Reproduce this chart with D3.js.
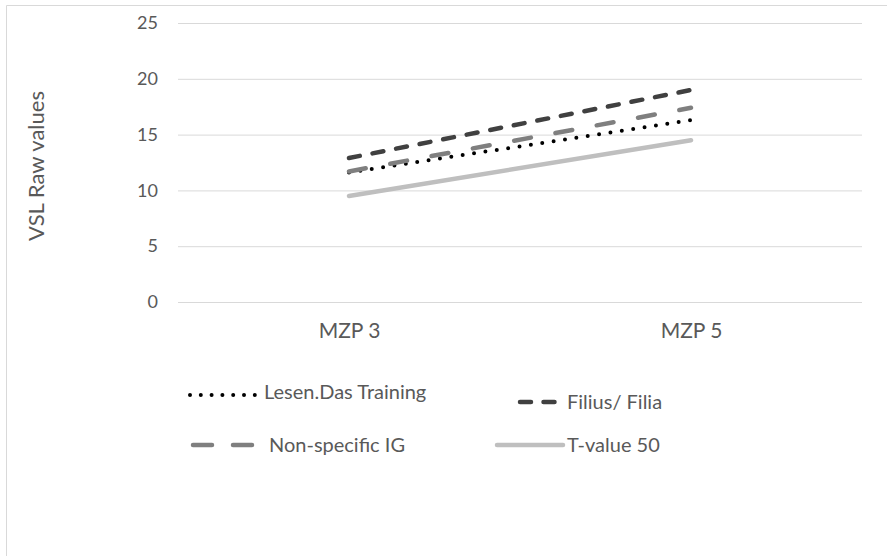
<!DOCTYPE html>
<html>
<head>
<meta charset="utf-8">
<script src="https://cdn.jsdelivr.net/npm/d3@7"></script>
<style>
  body { margin: 0; background: #fff; }
  svg { display: block; font-family: Lato, sans-serif; }
</style>
</head>
<body>
<svg id="chart" width="887" height="556"></svg>
<script>
// chart data
const categories = ['MZP 3', 'MZP 5'];
const seriesNames = ['Lesen.Das Training', 'Filius/ Filia', 'Non-specific IG', 'T-value 50'];
const lesenValues = [11.6, 16.3];
const filiusValues = [12.9, 19.0];
const nonSpecificValues = [11.7, 17.4];
const tValues = [9.5, 14.5];
const yTicks = [0, 5, 10, 15, 20, 25];

const svg = d3.select('#chart');
const margin = { top: 23, right: 25, bottom: 254, left: 178 };
const width = 887 - margin.left - margin.right;
const height = 556 - margin.top - margin.bottom;

// outer frame (only top and left visible)
svg.append('path')
  .attr('d', 'M6.5,556V5.5H887')
  .attr('fill', 'none')
  .attr('stroke', '#d9d9d9')
  .attr('stroke-width', 1);

const g = svg.append('g').attr('transform', `translate(${margin.left},${margin.top})`);

const x = d3.scalePoint().domain(categories).range([0, width]).padding(0.5);
const y = d3.scaleLinear().domain([0, 25]).range([height, 0]);

// gridlines + y labels
g.append('g')
  .call(d3.axisLeft(y).tickValues(yTicks).tickSize(-width).tickPadding(20))
  .call(a => a.select('.domain').remove())
  .call(a => a.selectAll('line').attr('stroke', '#d9d9d9').attr('stroke-width', 1))
  .call(a => a.selectAll('text').attr('fill', '#595959').attr('font-size', 18).attr('font-family', 'Lato, sans-serif'));

// x labels
g.append('g')
  .attr('transform', `translate(0,${height})`)
  .call(d3.axisBottom(x).tickSize(0).tickPadding(21))
  .call(a => a.select('.domain').remove())
  .call(a => a.selectAll('text').attr('fill', '#595959').attr('font-size', 21).attr('font-family', 'Lato, sans-serif'));

// y axis title
svg.append('text')
  .attr('transform', `translate(44,${166}) rotate(-90)`)
  .attr('text-anchor', 'middle')
  .attr('fill', '#595959')
  .attr('font-size', 22)
  .text('VSL Raw values');

const styles = [
  { values: lesenValues, color: '#000000', width: 4, dash: '0,11.5' },
  { values: filiusValues, color: '#404040', width: 4.5, dash: '11,13' },
  { values: nonSpecificValues, color: '#7f7f7f', width: 4.5, dash: '17,25' },
  { values: tValues, color: '#bfbfbf', width: 4.5, dash: null }
];

const line = d3.line()
  .x((d, i) => x(categories[i]))
  .y(d => y(d));

// draw order: T-value, Lesen, Non-specific, Filius
[3, 0, 2, 1].forEach(i => {
  const s = styles[i];
  g.append('path')
    .datum(s.values)
    .attr('fill', 'none')
    .attr('stroke', s.color)
    .attr('stroke-width', s.width)
    .attr('stroke-linecap', 'round')
    .attr('stroke-dasharray', s.dash)
    .attr('d', line);
});

// legend
const legendItems = [
  { x1: 190, x2: 256, y: 395, tx: 264, ty: 392, size: 20 },
  { x1: 520, x2: 556, y: 402, tx: 567, ty: 402, size: 20 },
  { x1: 193, x2: 252, y: 445, tx: 269, ty: 445, size: 20 },
  { x1: 497, x2: 563, y: 445, tx: 567, ty: 445, size: 20 }
];
const legendDash = ['0,10.8', '11,12.5', '19,21', null];

legendItems.forEach((p, i) => {
  const s = styles[i];
  svg.append('line')
    .attr('x1', p.x1).attr('x2', p.x2)
    .attr('y1', p.y).attr('y2', p.y)
    .attr('stroke', s.color)
    .attr('stroke-width', s.width)
    .attr('stroke-linecap', 'round')
    .attr('stroke-dasharray', legendDash[i]);
  svg.append('text')
    .attr('x', p.tx)
    .attr('y', p.ty)
    .attr('dy', '0.35em')
    .attr('fill', '#595959')
    .attr('font-size', p.size)
    .text(seriesNames[i]);
});
</script>
</body>
</html>
